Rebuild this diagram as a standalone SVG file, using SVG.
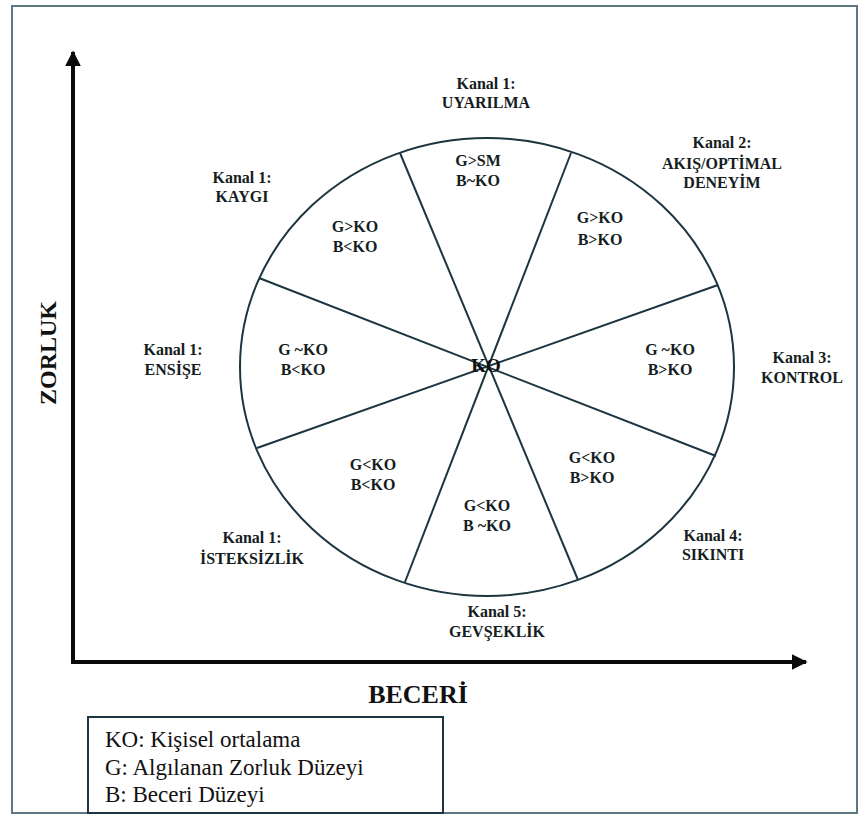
<svg xmlns="http://www.w3.org/2000/svg" width="859" height="816" viewBox="0 0 859 816">
  <style>
    .lbl { font-family: "Liberation Serif", "Times New Roman", serif; font-weight: bold; font-size: 16px; fill: #151d22; text-anchor: middle; }
    .axis-title { font-family: "Liberation Serif", "Times New Roman", serif; font-weight: bold; fill: #111; text-anchor: middle; }
    .legend { font-family: "Liberation Serif", "Times New Roman", serif; font-size: 23px; fill: #111; }
    .wheel { fill: none; stroke: #1d3540; stroke-width: 2; }
    .axis { stroke: #0a0a0a; stroke-width: 4; fill: none; }
  </style>
  <defs>
    <marker id="arrow" viewBox="0 0 10 10" refX="9" refY="5" markerWidth="4" markerHeight="4" orient="auto" markerUnits="strokeWidth">
      <path d="M0,0 L10,5 L0,10 z" fill="#0a0a0a"/>
    </marker>
  </defs>

  <rect x="0" y="0" width="859" height="816" fill="#fff"/>
  <!-- outer frame -->
  <rect x="12" y="6" width="845" height="807" fill="none" stroke="#5d7882" stroke-width="2"/>

  <!-- axes -->
  <g id="connectors">
    <line class="axis" x1="73" y1="664" x2="73" y2="52" marker-end="url(#arrow)"/>
    <line class="axis" x1="71" y1="662" x2="806" y2="662" marker-end="url(#arrow)"/>
  </g>

  <g id="axis-y-label">
    <text class="axis-title" font-size="24" transform="translate(56,353) rotate(-90)">ZORLUK</text>
  </g>
  <g id="axis-x-label">
    <text class="axis-title" font-size="26" x="418" y="703">BECERİ</text>
  </g>

  <!-- channel wheel -->
  <g id="wheel">
    <ellipse class="wheel" cx="487" cy="367" rx="247" ry="229"/>
    <line class="wheel" x1="400" y1="153" x2="578" y2="580"/>
    <line class="wheel" x1="571" y1="153" x2="405" y2="582"/>
    <line class="wheel" x1="259" y1="278" x2="716" y2="456"/>
    <line class="wheel" x1="718" y1="285" x2="257" y2="448"/>
    <text x="486" y="372" font-family="Liberation Serif, serif" font-weight="bold" font-size="19" fill="#111" text-anchor="middle">KO</text>
  </g>

  <!-- sector contents -->
  <g id="sector-top">
    <text class="lbl" x="478" y="166">G&gt;SM</text>
    <text class="lbl" x="478" y="186">B~KO</text>
  </g>
  <g id="sector-upper-right">
    <text class="lbl" x="600" y="223">G&gt;KO</text>
    <text class="lbl" x="600" y="245">B&gt;KO</text>
  </g>
  <g id="sector-right">
    <text class="lbl" x="670" y="355">G ~KO</text>
    <text class="lbl" x="670" y="375">B&gt;KO</text>
  </g>
  <g id="sector-lower-right">
    <text class="lbl" x="592" y="463">G&lt;KO</text>
    <text class="lbl" x="592" y="483">B&gt;KO</text>
  </g>
  <g id="sector-bottom">
    <text class="lbl" x="487" y="511">G&lt;KO</text>
    <text class="lbl" x="487" y="531">B ~KO</text>
  </g>
  <g id="sector-lower-left">
    <text class="lbl" x="373" y="470">G&lt;KO</text>
    <text class="lbl" x="373" y="490">B&lt;KO</text>
  </g>
  <g id="sector-left">
    <text class="lbl" x="303" y="355">G ~KO</text>
    <text class="lbl" x="303" y="375">B&lt;KO</text>
  </g>
  <g id="sector-upper-left">
    <text class="lbl" x="355" y="232">G&gt;KO</text>
    <text class="lbl" x="355" y="252">B&lt;KO</text>
  </g>

  <!-- channel names -->
  <g id="channel-uyarilma">
    <text class="lbl" x="486" y="89">Kanal 1:</text>
    <text class="lbl" x="486" y="108">UYARILMA</text>
  </g>
  <g id="channel-akis">
    <text class="lbl" x="722" y="148">Kanal 2:</text>
    <text class="lbl" x="722" y="169">AKIŞ/OPTİMAL</text>
    <text class="lbl" x="722" y="188">DENEYİM</text>
  </g>
  <g id="channel-kontrol">
    <text class="lbl" x="802" y="363">Kanal 3:</text>
    <text class="lbl" x="802" y="383">KONTROL</text>
  </g>
  <g id="channel-sikinti">
    <text class="lbl" x="713" y="541">Kanal 4:</text>
    <text class="lbl" x="713" y="560">SIKINTI</text>
  </g>
  <g id="channel-gevseklik">
    <text class="lbl" x="497" y="617">Kanal 5:</text>
    <text class="lbl" x="497" y="637">GEVŞEKLİK</text>
  </g>
  <g id="channel-isteksizlik">
    <text class="lbl" x="252" y="543">Kanal 1:</text>
    <text class="lbl" x="252" y="564">İSTEKSİZLİK</text>
  </g>
  <g id="channel-ensise">
    <text class="lbl" x="173" y="355">Kanal 1:</text>
    <text class="lbl" x="173" y="375">ENSİŞE</text>
  </g>
  <g id="channel-kaygi">
    <text class="lbl" x="242" y="183">Kanal 1:</text>
    <text class="lbl" x="242" y="202">KAYGI</text>
  </g>

  <!-- legend -->
  <g id="legend">
    <rect x="88" y="717" width="355" height="96" fill="#fff" stroke="#1d3540" stroke-width="2"/>
    <text class="legend" x="105" y="747">KO: Kişisel ortalama</text>
    <text class="legend" x="105" y="775">G: Algılanan Zorluk Düzeyi</text>
    <text class="legend" x="105" y="802">B: Beceri Düzeyi</text>
  </g>
</svg>
